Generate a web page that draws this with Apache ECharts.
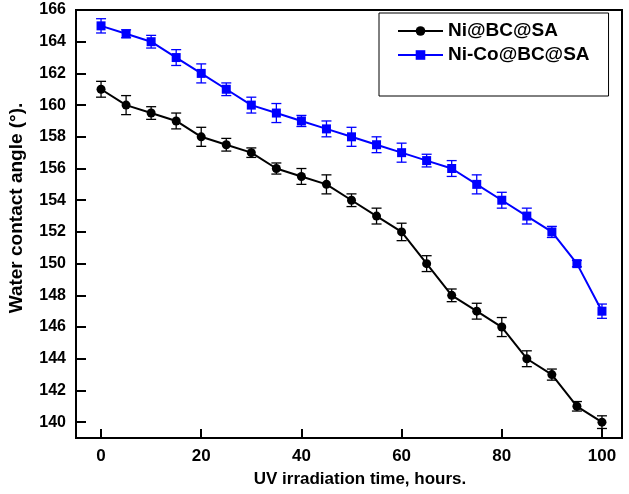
<!DOCTYPE html>
<html>
<head>
<meta charset="utf-8">
<script src="https://cdn.jsdelivr.net/npm/echarts@6/dist/echarts.min.js"></script>
<style>html,body{margin:0;padding:0;background:#fff;}#c{width:629px;height:494px;}</style>
</head>
<body>
<div id="c"></div>
<script>
const hours = [0,5,10,15,20,25,30,35,40,45,50,55,60,65,70,75,80,85,90,95,100];
const niValues = [161,160,159.5,159,158,157.5,157,156,155.5,155,154,153,152,150,148,147,146,144,143,141,140];
const niErr = [0.5,0.6,0.4,0.5,0.6,0.4,0.3,0.35,0.5,0.6,0.4,0.5,0.55,0.5,0.4,0.5,0.6,0.5,0.35,0.3,0.4];
const nicoValues = [165,164.5,164,163,162,161,160,159.5,159,158.5,158,157.5,157,156.5,156,155,154,153,152,150,147];
const nicoErr = [0.45,0.25,0.4,0.5,0.6,0.4,0.5,0.6,0.35,0.5,0.6,0.5,0.6,0.4,0.5,0.6,0.5,0.5,0.35,0.2,0.45];
const yTicks = [140,142,144,146,148,150,152,154,156,158,160,162,164,166];
const xTicks = [0,20,40,60,80,100];
const seriesNames = ['Ni@BC@SA','Ni-Co@BC@SA'];

const font = 'Liberation Sans, Arial, sans-serif';
function errData(vals, errs){ return hours.map((h,i)=>[h, vals[i]-errs[i], vals[i]+errs[i]]); }
function errSeries(vals, errs, color){
  return {
    type:'custom', silent:true, z:1,
    data: errData(vals, errs),
    renderItem: function(params, api){
      const x = api.value(0);
      const lo = api.coord([x, api.value(1)]);
      const hi = api.coord([x, api.value(2)]);
      const w = 5;
      const st = {stroke: color, lineWidth: 1.3};
      return {type:'group', children:[
        {type:'line', shape:{x1:lo[0],y1:lo[1],x2:hi[0],y2:hi[1]}, style:st},
        {type:'line', shape:{x1:lo[0]-w,y1:lo[1],x2:lo[0]+w,y2:lo[1]}, style:st},
        {type:'line', shape:{x1:hi[0]-w,y1:hi[1],x2:hi[0]+w,y2:hi[1]}, style:st}
      ]};
    }
  };
}
const chart = echarts.init(document.getElementById('c'), null, {renderer:'canvas'});
chart.setOption({
  animation:false,
  backgroundColor:'#fff',
  grid:{left:76, right:7, top:10, bottom:56, show:true, borderColor:'#000', borderWidth:2, containLabel:false, outerBoundsMode:'none'},
  legend:{
    orient:'vertical', left:379, top:13,
    data: seriesNames,
    backgroundColor:'#fff', borderColor:'#000', borderWidth:1,
    padding:[8,19,31,18], itemGap:4, itemWidth:45, itemHeight:12,
    textStyle:{fontFamily:font, fontWeight:'bold', fontSize:19, color:'#000', lineHeight:20}
  },
  xAxis:{
    type:'value', min:-5, max:104,
    name:'UV irradiation time, hours.', nameLocation:'middle', nameGap:33,
    nameTextStyle:{fontFamily:font, fontWeight:'bold', fontSize:17, color:'#000', padding:[0,0,0,22]},
    axisLine:{show:true, onZero:false, lineStyle:{color:'#000', width:2}},
    axisTick:{show:true, inside:true, length:9, lineStyle:{color:'#000', width:2}, customValues: xTicks},
    axisLabel:{fontFamily:font, fontWeight:'bold', fontSize:17, color:'#000', margin:10, customValues: xTicks},
    splitLine:{show:false}
  },
  yAxis:{
    type:'value', min:139, max:166,
    name:'Water contact angle (\u00B0).', nameLocation:'middle', nameGap:50,
    nameTextStyle:{fontFamily:font, fontWeight:'bold', fontSize:19, color:'#000', padding:[0,0,0,32]},
    axisLine:{show:true, onZero:false, lineStyle:{color:'#000', width:2}},
    axisTick:{show:true, inside:true, length:10, lineStyle:{color:'#000', width:2}, customValues: yTicks},
    axisLabel:{fontFamily:font, fontWeight:'bold', fontSize:16, color:'#000', margin:10, customValues: yTicks},
    splitLine:{show:false}
  },
  series:[
    errSeries(niValues, niErr, '#000'),
    errSeries(nicoValues, nicoErr, '#0000ff'),
    {name:seriesNames[0], type:'line', z:3, data: hours.map((h,i)=>[h, niValues[i]]),
     symbol:'circle', symbolSize:9, itemStyle:{color:'#000'}, lineStyle:{color:'#000', width:2}},
    {name:seriesNames[1], type:'line', z:3, data: hours.map((h,i)=>[h, nicoValues[i]]),
     symbol:'rect', symbolSize:9, itemStyle:{color:'#0000ff'}, lineStyle:{color:'#0000ff', width:2}}
  ]
});
</script>
</body>
</html>
